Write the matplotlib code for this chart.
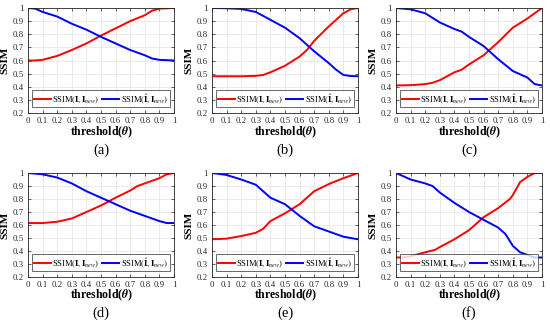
import numpy as np
import matplotlib
matplotlib.use('Agg')
import matplotlib.pyplot as plt

plt.rcParams['font.family'] = ['Liberation Serif', 'DejaVu Serif']
plt.rcParams['mathtext.fontset'] = 'stix'

# ---- data (threshold -> SSIM) ----
a_x_red = [0, 0.05, 0.1, 0.2, 0.3, 0.4, 0.5, 0.6, 0.7, 0.8, 0.85, 0.9, 1.0]
a_red = [0.60, 0.60, 0.605, 0.635, 0.68, 0.73, 0.79, 0.845, 0.90, 0.945, 0.98, 0.995, 1.0]
a_x_blue = [0, 0.05, 0.1, 0.2, 0.3, 0.4, 0.5, 0.6, 0.7, 0.8, 0.85, 0.9, 1.0]
a_blue = [1.0, 0.995, 0.97, 0.935, 0.88, 0.835, 0.78, 0.73, 0.68, 0.64, 0.615, 0.605, 0.60]

b_x_red = [0, 0.1, 0.2, 0.3, 0.35, 0.4, 0.5, 0.6, 0.65, 0.7, 0.8, 0.9, 0.95, 1.0]
b_red = [0.48, 0.48, 0.48, 0.483, 0.49, 0.51, 0.56, 0.63, 0.68, 0.75, 0.86, 0.96, 0.99, 1.0]
b_x_blue = [0, 0.1, 0.2, 0.3, 0.4, 0.5, 0.6, 0.7, 0.8, 0.85, 0.9, 0.95, 1.0]
b_blue = [1.0, 0.998, 0.993, 0.97, 0.91, 0.85, 0.77, 0.67, 0.58, 0.53, 0.49, 0.482, 0.48]

c_x_red = [0, 0.1, 0.2, 0.25, 0.3, 0.4, 0.45, 0.5, 0.6, 0.7, 0.8, 0.9, 1.0]
c_red = [0.41, 0.412, 0.42, 0.43, 0.45, 0.51, 0.53, 0.57, 0.64, 0.74, 0.85, 0.92, 1.0]
c_x_blue = [0, 0.1, 0.2, 0.3, 0.4, 0.45, 0.5, 0.6, 0.7, 0.8, 0.9, 0.95, 1.0]
c_blue = [1.0, 0.99, 0.96, 0.89, 0.84, 0.82, 0.78, 0.71, 0.61, 0.52, 0.47, 0.42, 0.41]

d_x_red = [0, 0.1, 0.2, 0.3, 0.4, 0.5, 0.6, 0.7, 0.75, 0.8, 0.9, 0.95, 1.0]
d_red = [0.615, 0.615, 0.625, 0.65, 0.70, 0.75, 0.81, 0.865, 0.90, 0.92, 0.96, 0.99, 1.0]
d_x_blue = [0, 0.1, 0.2, 0.3, 0.4, 0.5, 0.6, 0.7, 0.8, 0.9, 0.95, 1.0]
d_blue = [1.0, 0.99, 0.965, 0.92, 0.86, 0.81, 0.76, 0.71, 0.67, 0.63, 0.615, 0.615]

e_x_red = [0, 0.1, 0.2, 0.3, 0.35, 0.4, 0.5, 0.6, 0.7, 0.8, 0.9, 1.0]
e_red = [0.49, 0.495, 0.515, 0.54, 0.57, 0.63, 0.69, 0.76, 0.86, 0.915, 0.96, 1.0]
e_x_blue = [0, 0.1, 0.2, 0.3, 0.4, 0.5, 0.6, 0.7, 0.8, 0.9, 1.0]
e_blue = [1.0, 0.985, 0.95, 0.91, 0.81, 0.76, 0.67, 0.59, 0.55, 0.51, 0.49]

f_x_red = [0, 0.05, 0.1, 0.2, 0.27, 0.3, 0.4, 0.5, 0.6, 0.7, 0.78, 0.8, 0.85, 0.9, 0.95, 1.0]
f_red = [0.35, 0.35, 0.36, 0.39, 0.41, 0.43, 0.49, 0.56, 0.66, 0.73, 0.80, 0.83, 0.93, 0.97, 1.0, 1.0]
f_x_blue = [0, 0.1, 0.2, 0.25, 0.3, 0.4, 0.5, 0.6, 0.7, 0.75, 0.8, 0.85, 0.9, 0.95, 1.0]
f_blue = [1.0, 0.95, 0.92, 0.90, 0.85, 0.77, 0.70, 0.64, 0.58, 0.53, 0.44, 0.39, 0.37, 0.35, 0.35]

panels = [
    ('(a)', a_x_red, a_red, a_x_blue, a_blue),
    ('(b)', b_x_red, b_red, b_x_blue, b_blue),
    ('(c)', c_x_red, c_red, c_x_blue, c_blue),
    ('(d)', d_x_red, d_red, d_x_blue, d_blue),
    ('(e)', e_x_red, e_red, e_x_blue, e_blue),
    ('(f)', f_x_red, f_red, f_x_blue, f_blue),
]

W, H = 550, 323
fig = plt.figure(figsize=(W / 100, H / 100), dpi=100)

# axes positions in pixels
lefts = [28, 212, 396]
rows = [(8, 113), (173, 277)]
label_y = [150, 313]
xlab_y = [132, 295]

xticks = np.round(np.arange(0, 1.01, 0.1), 1)
xticklabels = ['0'] + ['%.1f' % v for v in xticks[1:-1]] + ['1']
yticks = np.round(np.arange(0.2, 1.01, 0.1), 1)
yticklabels = ['%.1f' % v for v in yticks[:-1]] + ['1']

for k, (tag, xr, yr, xb, yb) in enumerate(panels):
    r, c = divmod(k, 3)
    top, bot = rows[r]
    l = lefts[c]
    ax = fig.add_axes([l / W, (H - bot) / H, 146 / W, (bot - top) / H])
    ax.plot(xr, yr, color='#ff0000', lw=1.4,
            label=r'SSIM$(\mathbf{I},\mathbf{I}_{new})$')
    ax.plot(xb, yb, color='#0000ff', lw=1.4,
            label=r'SSIM$(\hat{\mathbf{I}},\mathbf{I}_{new})$')
    ax.set_xlim(0, 1)
    ax.set_ylim(0.2, 1)
    ax.set_xticks(xticks)
    ax.set_xticklabels(xticklabels)
    ax.set_yticks(yticks)
    ax.set_yticklabels(yticklabels)
    ax.tick_params(direction='in', labelsize=6.3, length=2, width=0.5,
                   colors='#262626', pad=3, top=True, right=True)
    ax.grid(True, color='#e3e3e3', lw=0.5)
    ax.set_axisbelow(True)
    for s in ax.spines.values():
        s.set_linewidth(0.6)
        s.set_color('#262626')
    ax.set_ylabel('SSIM', fontsize=8, fontweight='bold', labelpad=2)
    fig.text((l + 73) / W, (H - xlab_y[r]) / H, r'threshold($\mathbfit{\theta}$)',
             fontsize=8.5, fontweight='bold', ha='center', va='center')
    fig.text((l + 73) / W, (H - label_y[r]) / H, tag,
             fontsize=10.5, ha='center', va='center')
    leg = ax.legend(loc='lower center', bbox_to_anchor=(0.5, 0.055),
                    ncol=2, fontsize=6.1, frameon=True,
                    fancybox=False, edgecolor='#262626', handlelength=2.0,
                    handletextpad=0.2, columnspacing=0.3, borderpad=0.2,
                    borderaxespad=0, handleheight=0.5)
    leg.get_frame().set_linewidth(0.6)
    leg.set_zorder(5)

fig.savefig('out.png', dpi=100)
